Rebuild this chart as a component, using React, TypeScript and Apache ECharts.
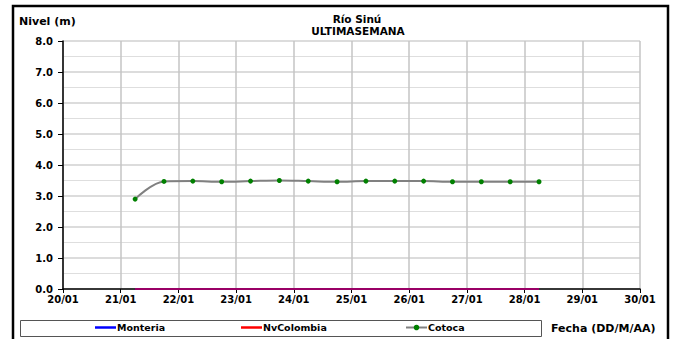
import React, { useEffect, useRef } from "react";
import * as echarts from "echarts";

const titleLines = ["Río Sinú", "ULTIMASEMANA"];
const yAxisName = "Nivel (m)";
const xAxisName = "Fecha (DD/M/AA)";
const seriesNames = ["Monteria", "NvColombia", "Cotoca"];
// day of January (fractional) for each reading
const times = [21.25, 21.75, 22.25, 22.75, 23.25, 23.75, 24.25, 24.75, 25.25, 25.75, 26.25, 26.75, 27.25, 27.75, 28.25];
const monteria = [0, 0, 0, 0, 0, 0, 0, 0, 0, 0, 0, 0, 0, 0, 0];
const nvColombia = [0, 0, 0, 0, 0, 0, 0, 0, 0, 0, 0, 0, 0, 0, 0];
const cotoca = [2.9, 3.47, 3.48, 3.46, 3.48, 3.5, 3.48, 3.46, 3.48, 3.48, 3.48, 3.46, 3.46, 3.46, 3.46];
const xMin = 20;
const xMax = 30;
const yMin = 0;
const yMax = 8;

const FONT = "DejaVu Sans";

export default function App() {
  const ref = useRef<HTMLDivElement>(null);
  useEffect(() => {
    if (!ref.current) return;
    const chart = echarts.init(ref.current, undefined, { renderer: "svg" });
    const pair = (ys: number[]) => times.map((t, i) => [t, ys[i]]);
    const textStyle = { fontFamily: FONT, fontWeight: "bold", fontSize: 9.5, color: "#000", padding: [0, 0, 0, -4] };
    chart.setOption({
      animation: false,
      backgroundColor: "#fff",
      grid: { left: 63, right: 34, top: 41, bottom: 50, containLabel: false },
      legend: [
        {
          top: 322.5, left: 95, itemWidth: 21, itemHeight: 2.5, padding: 0, textStyle,
          data: [{ name: seriesNames[0], icon: "rect" }],
        },
        {
          top: 322.5, left: 241, itemWidth: 21, itemHeight: 2.5, padding: 0, textStyle,
          itemStyle: { opacity: 1 },
          data: [{ name: seriesNames[1], icon: "rect" }],
        },
        {
          top: 322.5, left: 405, itemWidth: 21, itemHeight: 7, padding: 0, textStyle,
          lineStyle: { opacity: 1 },
          data: [seriesNames[2]],
        },
      ],
      xAxis: {
        type: "value",
        min: xMin,
        max: xMax,
        interval: 1,
        axisLine: { show: true, onZero: false, lineStyle: { color: "#000", width: 1.5 } },
        axisTick: { show: true, length: 4, lineStyle: { color: "#000" } },
        axisLabel: {
          fontFamily: FONT,
          fontWeight: "bold",
          fontSize: 10,
          color: "#000",
          margin: 5,
          formatter: (v: number) => `${String(Math.round(v)).padStart(2, "0")}/01`,
        },
        splitLine: { show: true, lineStyle: { color: "#c4c4c4", width: 1.5 } },
      },
      yAxis: {
        type: "value",
        min: yMin,
        max: yMax,
        interval: 1,
        axisLine: { show: true, lineStyle: { color: "#000", width: 1.5 } },
        axisTick: { show: true, length: 5, lineStyle: { color: "#000" } },
        axisLabel: {
          fontFamily: FONT,
          fontWeight: "bold",
          fontSize: 10,
          color: "#000",
          margin: 10,
          formatter: (v: number) => v.toFixed(1),
        },
        splitLine: { show: true, lineStyle: { color: "#d0d0d0", width: 1.5 } },
        minorTick: { show: false, splitNumber: 2 },
        minorSplitLine: { show: true, lineStyle: { color: "#dedede", width: 1.2 } },
      },
      series: [
        {
          name: seriesNames[0],
          type: "line",
          data: pair(monteria),
          showSymbol: false,
          symbol: "none",
          color: "#0000ff",
          lineStyle: { color: "#0000ff", width: 2 },
          z: 5,
        },
        {
          name: seriesNames[1],
          type: "line",
          data: pair(nvColombia),
          showSymbol: false,
          symbol: "none",
          color: "#ff0000",
          lineStyle: { color: "#ff0000", width: 2, opacity: 0.6 },
          z: 6,
        },
        {
          name: seriesNames[2],
          type: "line",
          data: pair(cotoca),
          smooth: 0.35,
          symbol: "circle",
          symbolSize: 5,
          color: "#008000",
          itemStyle: { color: "#008000" },
          lineStyle: { color: "#808080", width: 2 },
          z: 7,
        },
      ],
      graphic: [
        {
          type: "rect",
          shape: { x: 13, y: 6, width: 655, height: 400 },
          style: { fill: "none", stroke: "#000", lineWidth: 2.5 },
          silent: true,
        },
        {
          type: "rect",
          shape: { x: 20.5, y: 320.5, width: 521, height: 16 },
          style: { fill: "none", stroke: "#555", lineWidth: 1 },
          silent: true,
        },
        {
          type: "text",
          x: 357,
          y: 18.5,
          style: { text: titleLines[0], fontFamily: FONT, fontWeight: "bold", fontSize: 10.5, fill: "#000", align: "center", verticalAlign: "middle" },
        },
        {
          type: "text",
          x: 358,
          y: 30.5,
          style: { text: titleLines[1], fontFamily: FONT, fontWeight: "bold", fontSize: 10.5, fill: "#000", align: "center", verticalAlign: "middle" },
        },
        {
          type: "text",
          x: 19,
          y: 21,
          style: { text: yAxisName, fontFamily: FONT, fontWeight: "bold", fontSize: 11, fill: "#000", align: "left", verticalAlign: "middle" },
        },
        {
          type: "text",
          x: 551,
          y: 328,
          style: { text: xAxisName, fontFamily: FONT, fontWeight: "bold", fontSize: 11, fill: "#000", align: "left", verticalAlign: "middle" },
        },
      ],
    });
    return () => chart.dispose();
  }, []);
  return (
    <div
      ref={ref}
      style={{ position: "fixed", left: 0, top: 0, width: 674, height: 339, background: "#fff" }}
    />
  );
}
